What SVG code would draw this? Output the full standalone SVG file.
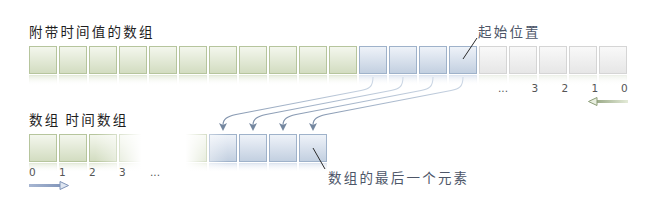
<svg xmlns="http://www.w3.org/2000/svg" width="656" height="214" viewBox="0 0 656 214">
<defs>
<linearGradient id="gG" x1="0" y1="0" x2="0" y2="1"><stop offset="0" stop-color="#f4f7ee"/><stop offset="1" stop-color="#d2dcc0"/></linearGradient>
<linearGradient id="gB" x1="0" y1="0" x2="0" y2="1"><stop offset="0" stop-color="#eff3f9"/><stop offset="1" stop-color="#c2cfe0"/></linearGradient>
<linearGradient id="gY" x1="0" y1="0" x2="0" y2="1"><stop offset="0" stop-color="#f9f9f9"/><stop offset="1" stop-color="#e6e6e6"/></linearGradient>
<linearGradient id="rG" x1="0" y1="0" x2="0" y2="1"><stop offset="0" stop-color="#dde5d0" stop-opacity="0.7"/><stop offset="1" stop-color="#ffffff" stop-opacity="0"/></linearGradient>
<linearGradient id="rB" x1="0" y1="0" x2="0" y2="1"><stop offset="0" stop-color="#d6dfec" stop-opacity="0.7"/><stop offset="1" stop-color="#ffffff" stop-opacity="0"/></linearGradient>
<linearGradient id="rY" x1="0" y1="0" x2="0" y2="1"><stop offset="0" stop-color="#e6ebe0" stop-opacity="0.6"/><stop offset="1" stop-color="#ffffff" stop-opacity="0"/></linearGradient>
<linearGradient id="cG" x1="1" y1="0" x2="0" y2="1"><stop offset="0" stop-color="#d0dbe8"/><stop offset="0.6" stop-color="#a3b3c8"/><stop offset="1" stop-color="#7a8ca6"/></linearGradient>
<linearGradient id="fade" gradientUnits="userSpaceOnUse" x1="95" y1="0" x2="228" y2="0">
<stop offset="0" stop-color="#fff" stop-opacity="0"/>
<stop offset="0.18" stop-color="#fff" stop-opacity="0.5"/>
<stop offset="0.35" stop-color="#fff" stop-opacity="1"/>
<stop offset="0.68" stop-color="#fff" stop-opacity="1"/>
<stop offset="0.85" stop-color="#fff" stop-opacity="0.4"/>
<stop offset="1" stop-color="#fff" stop-opacity="0"/>
</linearGradient>
<linearGradient id="aG" gradientUnits="userSpaceOnUse" x1="590" y1="0" x2="628" y2="0"><stop offset="0" stop-color="#8c9d78"/><stop offset="1" stop-color="#e4ebd8"/></linearGradient>
<linearGradient id="aB" gradientUnits="userSpaceOnUse" x1="29" y1="0" x2="64" y2="0"><stop offset="0" stop-color="#a7b6d2"/><stop offset="1" stop-color="#7f93b8"/></linearGradient>
<marker id="ah" viewBox="0 0 8 8" refX="2" refY="4" markerWidth="8" markerHeight="8" markerUnits="userSpaceOnUse" orient="auto">
<path d="M0,0 L8,4 L0,8 L2,4 z" fill="#74869f"/>
</marker>
</defs>
<style>
.g{fill:url(#gG);stroke:#b6c59d;stroke-width:1}
.b{fill:url(#gB);stroke:#9fb2ca;stroke-width:1}
.y{fill:url(#gY);stroke:#d5d5d5;stroke-width:1}
.rg{fill:url(#rG);stroke:url(#rG)}
.rb{fill:url(#rB);stroke:url(#rB)}
.ry{fill:url(#rY);stroke:url(#rY)}
.title{font-family:"Noto Sans CJK SC",sans-serif;font-size:13.5px;fill:#1e1e1e;letter-spacing:2.2px}
.note{font-family:"Noto Sans CJK SC",sans-serif;font-size:13.5px;fill:#4d5668;letter-spacing:2.2px}
.num{font-family:"DejaVu Sans",sans-serif;font-size:10.5px;fill:#555}
.con{fill:none;stroke:url(#cG);stroke-width:1.1;marker-end:url(#ah)}
.lead{stroke:#2a2a2a;stroke-width:1}
</style>

<text class="title" x="29" y="37">附带时间值的数组</text>
<text class="title" x="29" y="125">数组 时间数组</text>

<g id="topArray">
<g id="top-green">
<rect class="g" x="29.5" y="46.5" width="27" height="27"/>
<rect class="g" x="59.5" y="46.5" width="27" height="27"/>
<rect class="g" x="89.5" y="46.5" width="27" height="27"/>
<rect class="g" x="119.5" y="46.5" width="27" height="27"/>
<rect class="g" x="149.5" y="46.5" width="27" height="27"/>
<rect class="g" x="179.5" y="46.5" width="27" height="27"/>
<rect class="g" x="209.5" y="46.5" width="27" height="27"/>
<rect class="g" x="239.5" y="46.5" width="27" height="27"/>
<rect class="g" x="269.5" y="46.5" width="27" height="27"/>
<rect class="g" x="299.5" y="46.5" width="27" height="27"/>
<rect class="g" x="329.5" y="46.5" width="27" height="27"/>
</g>
<g id="top-blue">
<rect class="b" x="359.5" y="46.5" width="27" height="27"/>
<rect class="b" x="389.5" y="46.5" width="27" height="27"/>
<rect class="b" x="419.5" y="46.5" width="27" height="27"/>
<rect class="b" x="449.5" y="46.5" width="27" height="27"/>
</g>
<g id="top-grey">
<rect class="y" x="479.5" y="46.5" width="27" height="27"/>
<rect class="y" x="509.5" y="46.5" width="27" height="27"/>
<rect class="y" x="539.5" y="46.5" width="27" height="27"/>
<rect class="y" x="569.5" y="46.5" width="27" height="27"/>
<rect class="y" x="599.5" y="46.5" width="27" height="27"/>
</g>
<g id="top-reflection">
<rect class="rg" x="29.5" y="75.5" width="27" height="10"/>
<rect class="rg" x="59.5" y="75.5" width="27" height="10"/>
<rect class="rg" x="89.5" y="75.5" width="27" height="10"/>
<rect class="rg" x="119.5" y="75.5" width="27" height="10"/>
<rect class="rg" x="149.5" y="75.5" width="27" height="10"/>
<rect class="rg" x="179.5" y="75.5" width="27" height="10"/>
<rect class="rg" x="209.5" y="75.5" width="27" height="10"/>
<rect class="rg" x="239.5" y="75.5" width="27" height="10"/>
<rect class="rg" x="269.5" y="75.5" width="27" height="10"/>
<rect class="rg" x="299.5" y="75.5" width="27" height="10"/>
<rect class="rg" x="329.5" y="75.5" width="27" height="10"/>
<rect class="rb" x="359.5" y="75.5" width="27" height="10"/>
<rect class="rb" x="389.5" y="75.5" width="27" height="10"/>
<rect class="rb" x="419.5" y="75.5" width="27" height="10"/>
<rect class="rb" x="449.5" y="75.5" width="27" height="10"/>
<rect class="ry" x="479.5" y="75.5" width="27" height="10"/>
<rect class="ry" x="509.5" y="75.5" width="27" height="10"/>
<rect class="ry" x="539.5" y="75.5" width="27" height="10"/>
<rect class="ry" x="569.5" y="75.5" width="27" height="10"/>
<rect class="ry" x="599.5" y="75.5" width="27" height="10"/>
</g>
</g>

<g id="topIndex">
<text class="num" x="498" y="92">...</text>
<text class="num" x="531.5" y="92">3</text>
<text class="num" x="561.5" y="92">2</text>
<text class="num" x="591.5" y="92">1</text>
<text class="num" x="621" y="92">0</text>
<g id="arrow-left">
<line x1="596" y1="101.5" x2="628" y2="101.5" stroke="url(#aG)" stroke-width="3"/>
<path d="M588.5,101.5 L597,97.5 L597,105.5 z" fill="#e9efe0" stroke="#8c9d78" stroke-width="1"/>
</g>
</g>

<g id="startLabel">
<line class="lead" x1="477" y1="38" x2="463" y2="59"/>
<text class="note" x="478" y="37">起始位置</text>
</g>

<g id="bottomArray">
<g id="bottom-boxes">
<rect class="g" x="29.5" y="134.5" width="27" height="27"/>
<rect class="g" x="59.5" y="134.5" width="27" height="27"/>
<rect class="g" x="89.5" y="134.5" width="27" height="27"/>
<rect class="g" x="119.5" y="134.5" width="27" height="27"/>
<rect class="g" x="149.5" y="134.5" width="27" height="27"/>
<rect class="g" x="179.5" y="134.5" width="27" height="27"/>
<rect class="b" x="209.5" y="134.5" width="27" height="27"/>
<rect class="b" x="239.5" y="134.5" width="27" height="27"/>
<rect class="b" x="269.5" y="134.5" width="27" height="27"/>
<rect class="b" x="299.5" y="134.5" width="27" height="27"/>
</g>
<g id="bottom-reflection">
<rect class="rg" x="29.5" y="163.5" width="27" height="9"/>
<rect class="rg" x="59.5" y="163.5" width="27" height="9"/>
<rect class="rg" x="89.5" y="163.5" width="27" height="9"/>
<rect class="rg" x="119.5" y="163.5" width="27" height="9"/>
<rect class="rg" x="149.5" y="163.5" width="27" height="9"/>
<rect class="rg" x="179.5" y="163.5" width="27" height="9"/>
<rect class="rb" x="209.5" y="163.5" width="27" height="9"/>
<rect class="rb" x="239.5" y="163.5" width="27" height="9"/>
<rect class="rb" x="269.5" y="163.5" width="27" height="9"/>
<rect class="rb" x="299.5" y="163.5" width="27" height="9"/>
</g>
<rect x="95" y="130" width="133" height="46" fill="url(#fade)"/>
</g>

<g id="bottomIndex">
<text class="num" x="29" y="176">0</text>
<text class="num" x="59" y="176">1</text>
<text class="num" x="89" y="176">2</text>
<text class="num" x="119" y="176">3</text>
<text class="num" x="150" y="176">...</text>
<g id="arrow-right">
<line x1="29" y1="185.5" x2="61" y2="185.5" stroke="url(#aB)" stroke-width="3"/>
<path d="M68.5,185.5 L60,181.5 L60,189.5 z" fill="#dfe6f1" stroke="#7f93b8" stroke-width="1"/>
</g>
</g>

<g id="endLabel">
<line class="lead" x1="313" y1="148" x2="325" y2="169"/>
<text class="note" x="328" y="183">数组的最后一个元素</text>
</g>

<g id="connectors">
<path class="con" d="M373,77 C373,87 369,89 361,90.5 L236,114.5 C227,116.5 223,119 223,125"/>
<path class="con" d="M403,77 C403,87 399,89 391,90.5 L266,114.5 C257,116.5 253,119 253,125"/>
<path class="con" d="M433,77 C433,87 429,89 421,90.5 L296,114.5 C287,116.5 283,119 283,125"/>
<path class="con" d="M463,77 C463,87 459,89 451,90.5 L326,114.5 C317,116.5 313,119 313,125"/>
</g>
</svg>
